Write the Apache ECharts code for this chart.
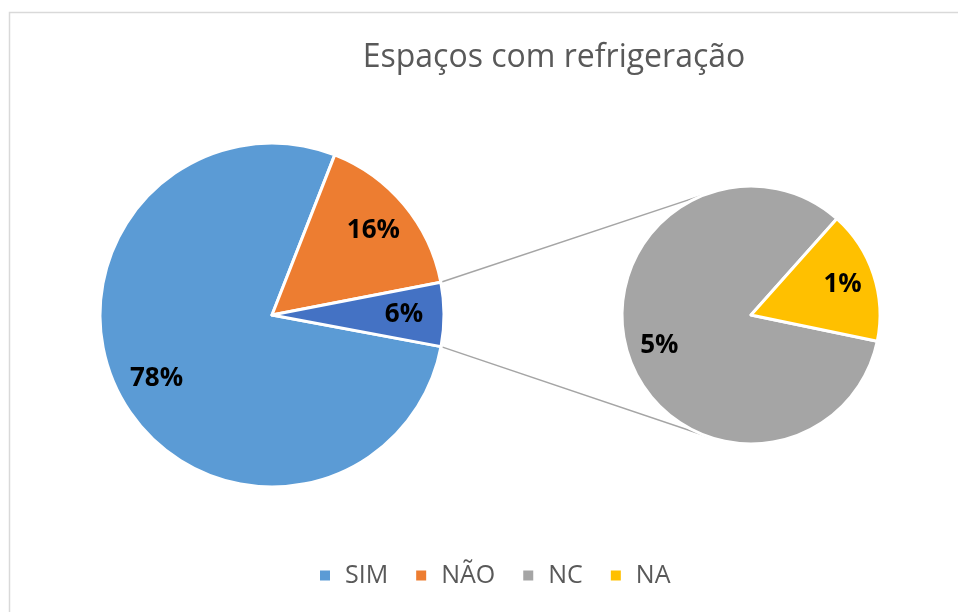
<!DOCTYPE html>
<html>
<head>
<meta charset="utf-8">
<script src="https://cdn.jsdelivr.net/npm/echarts@6/dist/echarts.min.js"></script>
<style>
  html, body { margin: 0; padding: 0; background: #fff; }
  #main { width: 958px; height: 612px; }
</style>
</head>
<body>
<div id="main"></div>
<script>
// main pie: SIM, NÃO and the grouped slice (NC + NA)
var mainNames = ['SIM', 'NÃO', 'Outros'];
var mainValues = [78, 16, 6];
// second pie: breakdown of the grouped slice
var subNames = ['NC', 'NA'];
var subValues = [5, 1];
var legendNames = ['SIM', 'NÃO', 'NC', 'NA'];

var mainColors = ['#5B9BD5', '#ED7D31', '#4472C4'];
var subColors = ['#A5A5A5', '#FFC000'];

var font = '"Open Sans", "Noto Sans", sans-serif';
var C1 = [272, 315], R1 = 172;
var C2 = [751, 315], R2 = 129;
var mainStart = -10.6;   // echarts degrees, ccw from east
var subStart = -11.7;

function sum(a) { return a.reduce(function (s, v) { return s + v; }, 0); }

function mkData(names, vals, colors) {
    return names.map(function (n, i) {
        return { name: n, value: vals[i], itemStyle: { color: colors[i] } };
    });
}
function ghost(names, vals) {
    return names.map(function (n, i) {
        return { name: n, value: vals[i], itemStyle: { color: 'rgba(0,0,0,0)' } };
    });
}

// connector lines: from the edges of the grouped slice to tangents of the second pie
var total = sum(mainValues);
var otherStart = mainStart - 360 * (mainValues[0] + mainValues[1]) / total;
var otherEnd = otherStart - 360 * mainValues[2] / total;
function pt(c, r, deg) {
    var a = deg * Math.PI / 180;
    return [c[0] + r * Math.cos(a), c[1] - r * Math.sin(a)];
}
function tangent(p, upper) {
    var dx = C2[0] - p[0], dy = C2[1] - p[1];
    var d = Math.sqrt(dx * dx + dy * dy);
    var base = Math.atan2(dy, dx);
    var alpha = Math.asin(R2 / d);
    var ang = upper ? base - alpha : base + alpha;
    var len = Math.sqrt(d * d - R2 * R2);
    return [p[0] + len * Math.cos(ang), p[1] + len * Math.sin(ang)];
}
var pTop = pt(C1, R1, otherStart);
var pBot = pt(C1, R1, otherEnd);
var tTop = tangent(pTop, true);
var tBot = tangent(pBot, false);

var pctLabel = {
    show: true,
    position: 'inside',
    color: '#000',
    fontSize: 26,
    fontWeight: 'bold',
    fontFamily: font,
    formatter: function (p) { return p.value + '%'; }
};

var option = {
    animation: false,
    backgroundColor: '#fff',
    title: {
        text: 'Espaços com refrigeração',
        left: 549,
        top: 37,
        textAlign: 'center',
        textStyle: { color: '#595959', fontSize: 32, fontWeight: 'normal', fontFamily: font }
    },
    legend: {
        data: legendNames,
        bottom: 19,
        left: 313,
        icon: 'rect',
        itemWidth: 12,
        itemHeight: 12,
        itemGap: 26,
        textStyle: { color: '#595959', fontSize: 25, fontFamily: font, padding: [0, 0, 0, 9] }
    },
    graphic: [
        { type: 'rect', silent: true, shape: { x: 9.5, y: 12.5, width: 1000, height: 700 },
          style: { fill: 'none', stroke: '#D9D9D9', lineWidth: 1.5 } },
        { type: 'line', silent: true, z: 1, shape: { x1: pTop[0], y1: pTop[1], x2: tTop[0], y2: tTop[1] },
          style: { stroke: '#A5A5A5', lineWidth: 1.5 } },
        { type: 'line', silent: true, z: 1, shape: { x1: pBot[0], y1: pBot[1], x2: tBot[0], y2: tBot[1] },
          style: { stroke: '#A5A5A5', lineWidth: 1.5 } }
    ],
    series: [
        {
            type: 'pie', center: C1, radius: R1, startAngle: mainStart,
            label: { show: false }, labelLine: { show: false },
            itemStyle: { borderColor: '#fff', borderWidth: 3 },
            emphasis: { disabled: true },
            data: mkData(mainNames, mainValues, mainColors)
        },
        {
            type: 'pie', center: C2, radius: R2, startAngle: subStart,
            label: { show: false }, labelLine: { show: false },
            itemStyle: { borderColor: '#fff', borderWidth: 3 },
            emphasis: { disabled: true },
            data: mkData(subNames, subValues, subColors)
        },
        // label carriers so labels sit ~3/4 of the radius out
        {
            type: 'pie', center: C1, radius: [R1 * 0.5, R1], startAngle: mainStart, silent: true,
            label: pctLabel, labelLine: { show: false },
            data: ghost(mainNames, mainValues)
        },
        {
            type: 'pie', center: C2, radius: [R2 * 0.45, R2], startAngle: subStart, silent: true,
            label: pctLabel, labelLine: { show: false },
            data: ghost(subNames, subValues)
        }
    ]
};

var chart = echarts.init(document.getElementById('main'));
chart.setOption(option);
</script>
</body>
</html>
